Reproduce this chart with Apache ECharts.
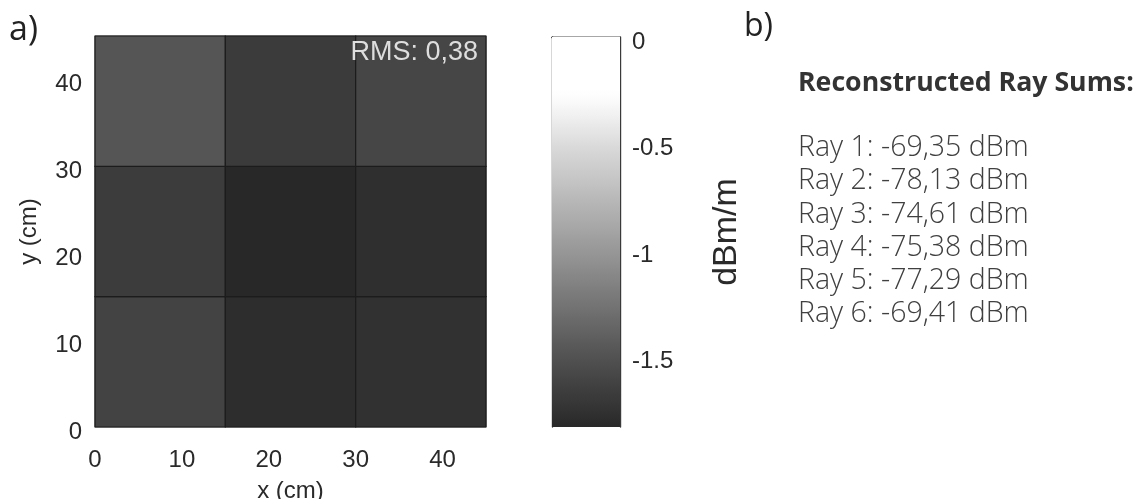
<!DOCTYPE html>
<html>
<head>
<meta charset="utf-8">
<script src="https://cdn.jsdelivr.net/npm/echarts@6/dist/echarts.min.js"></script>
<style>
html,body{margin:0;padding:0;background:#fff;}
#c{width:1143px;height:499px;}
</style>
</head>
<body>
<div id="c"></div>
<script>
// ---- data ----
const xEdges = [0, 15, 30, 45];
const yEdges = [0, 15, 30, 45];
// rows from bottom (y 0-15) to top (y 30-45), columns left to right
const cellRowBottom = [-1.62, -1.79, -1.76];
const cellRowMiddle = [-1.67, -1.83, -1.78];
const cellRowTop = [-1.48, -1.68, -1.59];
const xTicks = [0, 10, 20, 30, 40];
const yTicks = [0, 10, 20, 30, 40];
const cbarTicks = [0, -0.5, -1, -1.5];
const cbarMin = -1.83;
const cbarMax = 0;
const rmsValue = 0.38;
const rayNames = ['Ray 1', 'Ray 2', 'Ray 3', 'Ray 4', 'Ray 5', 'Ray 6'];
const rayValues = [-69.35, -78.13, -74.61, -75.38, -77.29, -69.41];

// ---- colormap (value -> grey level) ----
const greyStops = [[-1.83, 40], [-1.5, 82], [-1, 152], [-0.5, 220], [-0.3, 251], [-0.25, 255], [0, 255]];
function greyAt(v) {
  if (v <= greyStops[0][0]) return greyStops[0][1];
  for (let i = 1; i < greyStops.length; i++) {
    const a = greyStops[i - 1], b = greyStops[i];
    if (v <= b[0]) return a[1] + (b[1] - a[1]) * (v - a[0]) / (b[0] - a[0]);
  }
  return greyStops[greyStops.length - 1][1];
}
function greyCss(v) { const g = Math.round(greyAt(v)); return 'rgb(' + g + ',' + g + ',' + g + ')'; }
const N = 60;
const mapColors = [];
for (let i = 0; i <= N; i++) mapColors.push(greyCss(cbarMin + (cbarMax - cbarMin) * i / N));
const gradStops = [];
for (let i = 0; i <= N; i++) gradStops.push({ offset: i / N, color: greyCss(cbarMax - (cbarMax - cbarMin) * i / N) });

// ---- build cells ----
const rows = [cellRowBottom, cellRowMiddle, cellRowTop];
const cells = [];
rows.forEach((row, r) => row.forEach((v, c) => {
  cells.push([xEdges[c], xEdges[c + 1], yEdges[r], yEdges[r + 1], v]);
}));

const fmt = v => v.toFixed(2).replace('.', ',');
const FF = '"Liberation Sans", Arial, sans-serif';
const tickFont = { fontFamily: FF, fontSize: 24, color: '#2a2a2a' };
function shiftedLabel(extra, pad) {
  return Object.assign({
    formatter: v => '{a|' + v + '}',
    rich: { a: Object.assign({ padding: [pad, 0, 0, 0] }, tickFont)}
  }, extra);
}

const chart = echarts.init(document.getElementById('c'), null, { renderer: 'canvas' });
const graphics = [
  { type: 'text', left: 9, top: 13, style: { text: 'a)', font: '34px "Open Sans"', fill: '#222' } },
  { type: 'text', left: 744, top: 11, style: { text: 'b)', font: '32px "Open Sans"', fill: '#222' } },
  { type: 'text', x: 478, y: 53, style: { text: 'RMS: ' + fmt(rmsValue), font: '27px ' + FF, fill: '#dedede', align: 'right', verticalAlign: 'middle' }, z: 100 },
  { type: 'text', x: 798, y: 83, style: { text: 'Reconstructed Ray Sums:', font: '700 26.7px "Open Sans"', fill: '#333', verticalAlign: 'middle' } }
];
rayNames.forEach((n, i) => {
  graphics.push({ type: 'text', x: 798, y: 148 + i * 33.2, style: { text: n + ': ' + fmt(rayValues[i]) + ' dBm', font: '300 28.5px "Open Sans"', fill: '#404040', verticalAlign: 'middle' } });
});

chart.setOption({
  animation: false,
  backgroundColor: '#fff',
  grid: [
    { left: 95, top: 36, width: 391, height: 391, show: true, borderColor: '#555', borderWidth: 1, backgroundColor: 'transparent', containLabel: false, outerBoundsMode: 'none' },
    { left: 552, top: 37, width: 68, height: 390, show: false, containLabel: false, outerBoundsMode: 'none' }
  ],
  xAxis: [
    {
      gridIndex: 0, type: 'value', min: 0, max: 45,
      name: 'x (cm)', nameLocation: 'middle', nameGap: 52,
      nameTextStyle: tickFont,
      axisLine: { show: false }, axisTick: { show: false }, splitLine: { show: false },
      axisLabel: Object.assign({ customValues: xTicks, margin: 21 }, tickFont)
    },
    { gridIndex: 1, type: 'category', data: ['c'], show: true, position: 'bottom',
      axisLine: { show: true, lineStyle: { color: '#3a3a3a', width: 1.4 } }, axisTick: { show: false }, axisLabel: { show: false } },
    { gridIndex: 1, type: 'category', data: ['c'], show: true, position: 'top',
      axisLine: { show: true, lineStyle: { color: '#3a3a3a', width: 1.4 } }, axisTick: { show: false }, axisLabel: { show: false } }
  ],
  yAxis: [
    {
      gridIndex: 0, type: 'value', min: 0, max: 45,
      name: 'y (cm)', nameLocation: 'middle', nameGap: 54, nameRotate: 90,
      nameTextStyle: tickFont,
      axisLine: { show: false }, axisTick: { show: false }, splitLine: { show: false },
      axisLabel: shiftedLabel({ customValues: yTicks, margin: 13 }, 10)
    },
    {
      gridIndex: 1, type: 'value', min: cbarMin, max: cbarMax, position: 'right',
      name: 'dBm/m', nameLocation: 'middle', nameGap: 90, nameRotate: 90,
      nameTextStyle: { fontFamily: FF, fontSize: 34, color: '#2a2a2a' },
      axisLine: { show: true, lineStyle: { color: '#3a3a3a', width: 1.4 } },
      axisTick: { show: true, inside: true, length: 4, customValues: cbarTicks, lineStyle: { color: '#333' } },
      splitLine: { show: false },
      axisLabel: shiftedLabel({ customValues: cbarTicks, margin: 12 }, 10)
    },
    {
      gridIndex: 1, type: 'value', min: cbarMin, max: cbarMax, position: 'left',
      axisLine: { show: true, lineStyle: { color: '#3a3a3a', width: 1.4 } },
      axisTick: { show: true, inside: true, length: 4, customValues: cbarTicks, lineStyle: { color: '#333' } },
      splitLine: { show: false }, axisLabel: { show: false }
    }
  ],
  visualMap: {
    type: 'continuous', show: false, min: cbarMin, max: cbarMax, dimension: 4, seriesIndex: 0,
    inRange: { color: mapColors }
  },
  series: [
    {
      type: 'custom', xAxisIndex: 0, yAxisIndex: 0,
      encode: { x: [0, 1], y: [2, 3] },
      data: cells,
      renderItem: function (params, api) {
        const p0 = api.coord([api.value(0), api.value(3)]);
        const p1 = api.coord([api.value(1), api.value(2)]);
        return {
          type: 'rect',
          shape: { x: p0[0], y: p0[1], width: p1[0] - p0[0], height: p1[1] - p0[1] },
          style: { fill: api.visual('color'), stroke: '#1c1c1c', lineWidth: 1.2 }
        };
      }
    },
    {
      type: 'bar', xAxisIndex: 1, yAxisIndex: 1, barWidth: '100%',
      data: [cbarMin],
      itemStyle: { color: new echarts.graphic.LinearGradient(0, 0, 0, 1, gradStops) },
      silent: true
    }
  ],
  graphic: graphics
});
</script>
</body>
</html>
